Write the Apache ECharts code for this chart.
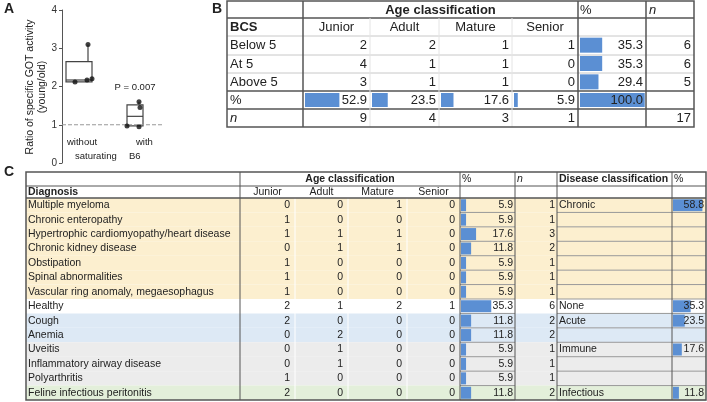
<!DOCTYPE html>
<html>
<head>
<meta charset="UTF-8">
<script src="https://cdn.jsdelivr.net/npm/echarts@6/dist/echarts.min.js"></script>
</head>
<body style="margin:0;background:#fff;">
<div id="main" style="width:707px;height:402px;"></div>
<script>
// ---- panel A data
var boxStats = [[17, 2.12, 2.12, 2.17, 2.65, 3.1], [73, 0.97, 0.97, 1.22, 1.52, 1.6]];
var whiskerX = [26, 77];
var boxPoints = [[26, 3.1], [13, 2.12], [25, 2.17], [30, 2.2], [77, 1.6], [78, 1.45], [65, 0.97], [77, 0.95]];

// ---- panel B data
var bAges = ['Junior', 'Adult', 'Mature', 'Senior'];
var bRows = ['Below 5', 'At 5', 'Above 5'];
var bCounts = [[2, 2, 1, 1], [4, 1, 1, 0], [3, 1, 1, 0]];
var bRowPct = [35.3, 35.3, 29.4];
var bRowN = [6, 6, 5];
var bColPct = [52.9, 23.5, 17.6, 5.9];
var bColN = [9, 4, 3, 1];
var bTotalPct = 100.0;
var bTotalN = 17;

// ---- panel C data
var cDiag = ['Multiple myeloma', 'Chronic enteropathy', 'Hypertrophic cardiomyopathy/heart disease',
  'Chronic kidney disease', 'Obstipation', 'Spinal abnormalities', 'Vascular ring anomaly, megaesophagus',
  'Healthy', 'Cough', 'Anemia', 'Uveitis', 'Inflammatory airway disease', 'Polyarthritis',
  'Feline infectious peritonitis'];
var cCounts = [[0,0,1,0],[1,0,0,0],[1,1,1,0],[0,1,1,0],[1,0,0,0],[1,0,0,0],[1,0,0,0],
  [2,1,2,1],[2,0,0,0],[0,2,0,0],[0,1,0,0],[0,1,0,0],[1,0,0,0],[2,0,0,0]];
var cPct = [5.9, 5.9, 17.6, 11.8, 5.9, 5.9, 5.9, 35.3, 11.8, 11.8, 5.9, 5.9, 5.9, 11.8];
var cN = [1, 1, 3, 2, 1, 1, 1, 6, 2, 2, 1, 1, 1, 2];
var cDisease = ['Chronic', '', '', '', '', '', '', 'None', 'Acute', '', 'Immune', '', '', 'Infectious'];
var cDiseasePct = [58.8, null, null, null, null, null, null, 35.3, 23.5, null, 17.6, null, null, 11.8];
var cGroup = ['chronic','chronic','chronic','chronic','chronic','chronic','chronic','none','acute','acute','immune','immune','immune','infectious'];

var groupColor = {chronic: '#fcefcf', none: '#ffffff', acute: '#dde9f5', immune: '#ececec', infectious: '#e3efda'};
var barColor = '#5b8fd3';
var dark = '#555';
var light = '#c8c8c8';
var ff = '"Liberation Sans", Arial, sans-serif';

var grids = [], xAxes = [], yAxes = [], series = [], graphic = [];

function txt(x, y, s, size, align, opt) {
  opt = opt || {};
  graphic.push({type: 'text', x: x, y: y, z: 10, rotation: opt.rot || 0, style: {
    text: String(s), fontFamily: ff, fontSize: size, fontWeight: opt.bold ? 'bold' : 'normal',
    fontStyle: opt.italic ? 'italic' : 'normal', fill: opt.color || '#222',
    textAlign: align, textVerticalAlign: 'middle', verticalAlign: 'middle'}});
}
function line(x1, y1, x2, y2, c, w) {
  graphic.push({type: 'line', z: 5, shape: {x1: x1, y1: y1, x2: x2, y2: y2}, style: {stroke: c, lineWidth: w}});
}
function rect(x, y, w, h, c) {
  graphic.push({type: 'rect', z: 0, shape: {x: x, y: y, width: w, height: h}, style: {fill: c}});
}
// horizontal data bars in a column of the table
function addBars(left, top, width, height, values, max, barW) {
  var gi = grids.length;
  grids.push({left: left, top: top, width: width, height: height});
  xAxes.push({gridIndex: gi, type: 'value', min: 0, max: max, show: false});
  yAxes.push({gridIndex: gi, type: 'category', inverse: true, show: false,
    data: values.map(function (v, i) { return i; })});
  series.push({type: 'bar', xAxisIndex: gi, yAxisIndex: gi, data: values, barWidth: barW,
    itemStyle: {color: barColor}, silent: true, z: 3});
}

// ---------- panel A
grids.push({left: 62, top: 10, width: 100, height: 153});
xAxes.push({gridIndex: 0, type: 'value', min: 0, max: 100, show: false});
yAxes.push({gridIndex: 0, type: 'value', min: 0, max: 4, interval: 1,
  axisLine: {show: true, lineStyle: {color: dark}}, axisTick: {show: true, length: 3},
  axisLabel: {color: '#333', fontSize: 10, fontFamily: ff, margin: 5}, splitLine: {show: false}});
series.push({type: 'line', xAxisIndex: 0, yAxisIndex: 0, data: [[0, 1], [100, 1]], symbol: 'none',
  lineStyle: {color: '#999', width: 1, type: 'dashed'}, silent: true});
series.push({type: 'custom', xAxisIndex: 0, yAxisIndex: 0, data: boxStats, z: 3,
  renderItem: function (params, api) {
    var cx = api.value(0);
    var hw = params.dataIndex === 0 ? 13 : 8;
    var l = api.coord([cx - hw, 0])[0], r = api.coord([cx + hw, 0])[0];
    var c = api.coord([whiskerX[params.dataIndex], 0])[0];
    var y = function (v) { return api.coord([0, v])[1]; };
    var st = {stroke: '#444', lineWidth: 1.2, fill: 'none'};
    return {type: 'group', children: [
      {type: 'rect', shape: {x: l, y: y(api.value(4)), width: r - l, height: y(api.value(2)) - y(api.value(4))}, style: st},
      {type: 'line', shape: {x1: l, y1: y(api.value(3)), x2: r, y2: y(api.value(3))}, style: st},
      {type: 'line', shape: {x1: c, y1: y(api.value(4)), x2: c, y2: y(api.value(5))}, style: st}
    ]};
  }});
series.push({type: 'scatter', xAxisIndex: 0, yAxisIndex: 0, data: boxPoints, symbolSize: 5,
  itemStyle: {color: '#111'}, z: 4});
txt(4, 9, 'A', 14, 'left', {bold: true});
txt(30, 87, 'Ratio of specific GOT activity', 10.5, 'center', {rot: Math.PI / 2});
txt(42, 87, '(young/old)', 10.5, 'center', {rot: Math.PI / 2});
txt(135, 87, 'P = 0.007', 9.5, 'center');
txt(67, 142, 'without', 9.5, 'left');
txt(136, 142, 'with', 9.5, 'left');
txt(75, 156, 'saturating', 9.5, 'left');
txt(129, 156, 'B6', 9.5, 'left');

// ---------- panel B
var bx = [227, 303, 370, 439, 512, 578, 646, 694];
var by = [1, 18, 36, 55, 73, 91, 109, 127];
txt(212, 9, 'B', 14, 'left', {bold: true});
for (var i = 1; i < by.length - 1; i++) line(bx[0], by[i], bx[7], by[i], (i === 1 || i === 5 || i === 6) ? dark : light, i === 1 || i === 5 || i === 6 ? 1.5 : 1);
for (var j = 2; j < 5; j++) line(bx[j], by[1], bx[j], by[7], '#e4e4e4', 1);
[1, 5, 6].forEach(function (j) { line(bx[j], by[0], bx[j], by[7], dark, 1.5); });
graphic.push({type: 'rect', z: 6, shape: {x: bx[0], y: by[0], width: bx[7] - bx[0], height: by[7] - by[0]}, style: {fill: null, stroke: dark, lineWidth: 1.5}});
txt((bx[1] + bx[5]) / 2, 10, 'Age classification', 13, 'center', {bold: true});
txt(bx[5] + 2, 10, '%', 13, 'left');
txt(bx[6] + 3, 10, 'n', 13, 'left', {italic: true});
txt(bx[0] + 3, 27, 'BCS', 13, 'left', {bold: true});
bAges.forEach(function (a, k) { txt((bx[k + 1] + bx[k + 2]) / 2, 27, a, 13, 'center'); });
bRows.forEach(function (r, i) {
  var yc = (by[i + 2] + by[i + 3]) / 2;
  txt(bx[0] + 3, yc, r, 13, 'left');
  bCounts[i].forEach(function (v, k) { txt(bx[k + 2] - 3, yc, v, 13, 'right'); });
  txt(bx[6] - 3, yc, bRowPct[i].toFixed(1), 13, 'right');
  txt(bx[7] - 3, yc, bRowN[i], 13, 'right');
});
txt(bx[0] + 3, 100, '%', 13, 'left');
bColPct.forEach(function (v, k) {
  txt(bx[k + 2] - 3, 100, v.toFixed(1), 13, 'right');
  addBars(bx[k + 1] + 2, by[5], bx[k + 2] - bx[k + 1] - 2, by[6] - by[5], [v], 100, 14);
});
txt(bx[6] - 3, 100, bTotalPct.toFixed(1), 13, 'right');
addBars(bx[5] + 2, by[5], bx[6] - bx[5] - 2, by[6] - by[5], [bTotalPct], 102, 14);
addBars(bx[5] + 2, by[2], bx[6] - bx[5] - 2, by[5] - by[2], bRowPct, 105, 15);
txt(bx[0] + 3, 118, 'n', 13, 'left', {italic: true});
bColN.forEach(function (v, k) { txt(bx[k + 2] - 3, 118, v, 13, 'right'); });
txt(bx[7] - 3, 118, bTotalN, 13, 'right');

// ---------- panel C
var cx = [26, 240, 295, 348, 407, 460, 515, 557, 672, 706];
var cTop = 172, cH1 = 186, cH2 = 198, rowH = (400 - 198) / 14;
txt(4, 172, 'C', 14, 'left', {bold: true});
cDiag.forEach(function (d, i) {
  var y0 = cH2 + i * rowH, yc = y0 + rowH / 2;
  rect(cx[0], y0, cx[9] - cx[0], rowH, groupColor[cGroup[i]]);
  line(cx[5], y0 + rowH, cx[6], y0 + rowH, '#999', 1);
  line(cx[7], y0 + rowH, cx[9], y0 + rowH, '#999', 1);
  txt(cx[0] + 2, yc, d, 10.5, 'left');
  cCounts[i].forEach(function (v, k) { txt(cx[k + 2] - 5, yc, v, 10.5, 'right'); });
  txt(cx[6] - 2, yc, cPct[i].toFixed(1), 10.5, 'right');
  txt(cx[7] - 2, yc, cN[i], 10.5, 'right');
  if (cDisease[i]) txt(cx[7] + 2, yc, cDisease[i], 10.5, 'left');
  if (cDiseasePct[i] != null) txt(cx[9] - 2, yc, cDiseasePct[i].toFixed(1), 10.5, 'right');
});
for (var k = 2; k < 5; k++) line(cx[k], cH1, cx[k], 400, '#ffffff', 1);
[1, 5, 6, 7, 8].forEach(function (k) { line(cx[k], cTop, cx[k], 400, dark, 1); });
line(cx[0], cH1, cx[9], cH1, dark, 1);
line(cx[0], cH2, cx[9], cH2, dark, 1.5);
graphic.push({type: 'rect', z: 6, shape: {x: cx[0], y: cTop, width: cx[9] - cx[0], height: 400 - cTop}, style: {fill: null, stroke: dark, lineWidth: 1.5}});
txt((cx[1] + cx[5]) / 2, 179, 'Age classification', 10.5, 'center', {bold: true});
txt(cx[5] + 2, 179, '%', 10.5, 'left');
txt(cx[6] + 2, 179, 'n', 10.5, 'left', {italic: true});
txt(cx[7] + 2, 179, 'Disease classification', 10.5, 'left', {bold: true});
txt(cx[8] + 2, 179, '%', 10.5, 'left');
txt(cx[0] + 2, 192, 'Diagnosis', 10.5, 'left', {bold: true});
bAges.forEach(function (a, k) { txt((cx[k + 1] + cx[k + 2]) / 2, 192, a, 10.5, 'center'); });
addBars(cx[5] + 1, cH2, cx[6] - cx[5] - 1, 400 - cH2, cPct, 63, 12);
addBars(cx[8] + 1, cH2, cx[9] - cx[8] - 1, 400 - cH2, cDiseasePct, 66, 12);

var myChart = echarts.init(document.getElementById('main'));
myChart.setOption({
  animation: false,
  grid: grids, xAxis: xAxes, yAxis: yAxes, series: series, graphic: graphic
});
</script>
</body>
</html>
